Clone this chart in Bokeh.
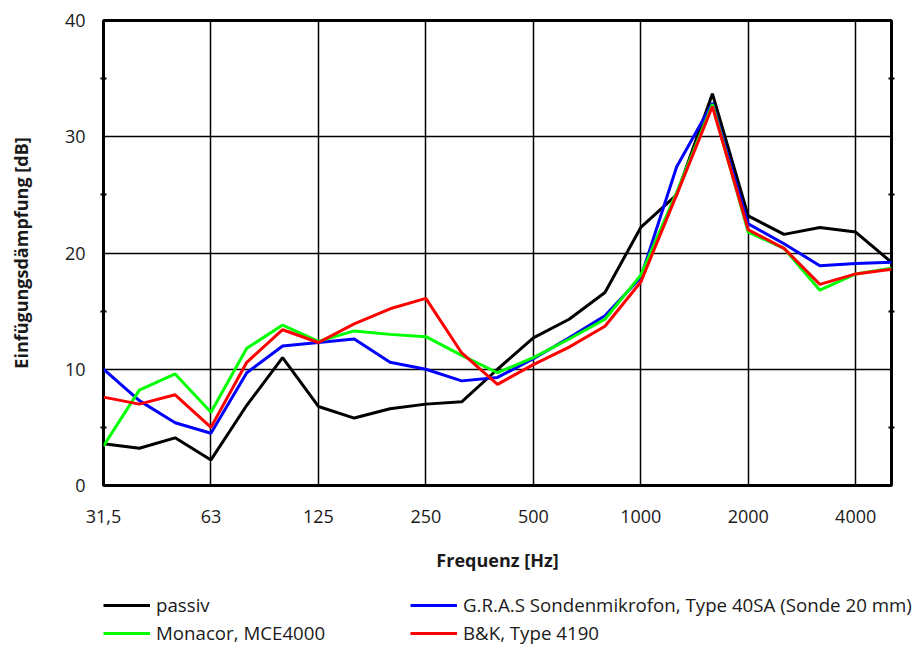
from bokeh.plotting import figure
from bokeh.layouts import column
from bokeh.models import (FixedTicker, LinearAxis, Legend, LegendItem, Range1d)
from bokeh.embed import file_html
from bokeh.resources import INLINE

# Third-octave band centre frequencies (labels) and insertion loss in dB
bands = ["31,5", "40", "50", "63", "80", "100", "125", "160", "200", "250",
         "315", "400", "500", "630", "800", "1000", "1250", "1600", "2000",
         "2500", "3150", "4000", "5000"]
passiv = [3.6, 3.2, 4.1, 2.2, 6.9, 11.0, 6.8, 5.8, 6.6, 7.0, 7.2, 10.0, 12.7,
          14.3, 16.6, 22.2, 25.0, 33.7, 23.2, 21.6, 22.2, 21.8, 19.2]
gras = [10.0, 7.3, 5.4, 4.5, 9.7, 12.0, 12.3, 12.6, 10.6, 10.0, 9.0, 9.3, 10.9,
        12.7, 14.6, 17.9, 27.4, 32.9, 22.5, 20.8, 18.9, 19.1, 19.2]
monacor = [3.4, 8.2, 9.6, 6.3, 11.8, 13.8, 12.4, 13.3, 13.0, 12.8, 11.2, 9.7,
           11.0, 12.6, 14.3, 18.1, 25.2, 32.8, 21.8, 20.4, 16.8, 18.2, 18.7]
bk = [7.6, 7.0, 7.8, 5.0, 10.6, 13.4, 12.3, 13.9, 15.2, 16.1, 11.4, 8.7, 10.4,
      11.9, 13.7, 17.5, 25.0, 32.6, 22.0, 20.4, 17.3, 18.2, 18.6]
octave_labels = ["31,5", "63", "125", "250", "500", "1000", "2000", "4000"]
y_ticks = [0, 10, 20, 30, 40]
y_minor = [5, 15, 25, 35]

FONT = "Open Sans"
TXT = "#1a1a1a"
LW = 3
x = list(range(len(bands)))

p = figure(width=920, height=575, output_backend="svg", toolbar_location=None,
           x_range=Range1d(0, len(bands) - 1), y_range=Range1d(0, 40),
           min_border_left=103, min_border_right=29, min_border_top=20,
           min_border_bottom=90, frame_align=False)
p.background_fill_color = "white"
p.border_fill_color = "white"
p.outline_line_color = "black"
p.outline_line_width = 3

octave_idx = [bands.index(l) for l in octave_labels]

# x axis: octave ticks labelled with the band names
xa = p.xaxis[0]
xa.ticker = FixedTicker(ticks=octave_idx)
xa.major_label_overrides = {i: bands[i] for i in octave_idx}
xa.major_tick_out = 0
xa.major_tick_in = 0
xa.minor_tick_out = 0
xa.axis_line_color = None
xa.major_label_text_font = FONT
xa.major_label_text_font_size = "18px"
xa.major_label_text_color = TXT
xa.major_label_standoff = 24
xa.axis_label = "Frequenz [Hz]"
xa.axis_label_text_font = FONT
xa.axis_label_text_font_style = "bold"
xa.axis_label_text_font_size = "18px"
xa.axis_label_text_color = TXT
xa.axis_label_standoff = 22

# y axis with minor marks at the half decades
ya = p.yaxis[0]
ya.ticker = FixedTicker(ticks=y_ticks, minor_ticks=y_minor)
ya.major_tick_out = 0
ya.major_tick_in = 0
ya.minor_tick_in = 3
ya.minor_tick_out = 3
ya.minor_tick_line_width = 2
ya.axis_line_color = None
ya.major_label_text_font = FONT
ya.major_label_text_font_size = "18px"
ya.major_label_text_color = TXT
ya.major_label_standoff = 15
ya.axis_label = "Einfügungsdämpfung [dB]"
ya.axis_label_text_font = FONT
ya.axis_label_text_font_style = "bold"
ya.axis_label_text_font_size = "18px"
ya.axis_label_text_color = TXT
ya.axis_label_standoff = 29

# right edge: only the half-decade marks, no labels
ra = LinearAxis(ticker=FixedTicker(ticks=[], minor_ticks=y_minor),
                major_tick_out=0, major_tick_in=0,
                minor_tick_in=3, minor_tick_out=3,
                minor_tick_line_width=2, axis_line_color=None)
p.add_layout(ra, "right")

p.xgrid.ticker = FixedTicker(ticks=octave_idx)
p.ygrid.ticker = FixedTicker(ticks=y_ticks)
for g in (p.xgrid[0], p.ygrid[0]):
    g.grid_line_color = "black"
    g.grid_line_width = 1.5
    g.grid_line_alpha = 1

series = [("passiv", passiv, "#000000"),
          ("G.R.A.S Sondenmikrofon, Type 40SA (Sonde 20 mm)", gras, "#0000ff"),
          ("Monacor, MCE4000", monacor, "#00ff00"),
          ("B&K, Type 4190", bk, "#ff0000")]
for name, vals, col in series:
    p.line(x, vals, line_color=col, line_width=LW)

# key strip under the chart: a bare figure whose only visible part is the legend
lg = figure(width=920, height=75, output_backend="svg", toolbar_location=None,
            x_range=Range1d(0, 1), y_range=Range1d(0, 1),
            x_axis_location=None, y_axis_location=None,
            min_border_left=0, min_border_right=0, min_border_top=0,
            min_border_bottom=0, frame_align=False)
lg.grid.visible = False
lg.outline_line_color = None
lg.background_fill_color = "white"
lg.border_fill_color = "white"
keys = {}
for name, vals, col in series:
    keys[name] = lg.line(x, vals, line_color=col, line_width=LW, visible=False)

rows = [[series[0][0], series[1][0]], [series[2][0], series[3][0]]]
bottoms = [33, 5]
for row, yb in zip(rows, bottoms):
    leg = Legend(items=[LegendItem(label=n, renderers=[keys[n]]) for n in row],
                 orientation="horizontal", location=(103, yb),
                 border_line_color=None, background_fill_alpha=0,
                 inactive_fill_alpha=0,
                 label_text_font=FONT, label_text_font_size="18.7px",
                 label_text_color=TXT, glyph_width=47, glyph_height=14,
                 label_width=254, label_standoff=6, spacing=0,
                 padding=0, margin=0, label_height=22)
    lg.add_layout(leg, "center")

layout = column(p, lg, spacing=0)
open("out.html", "w").write(file_html(layout, INLINE))
